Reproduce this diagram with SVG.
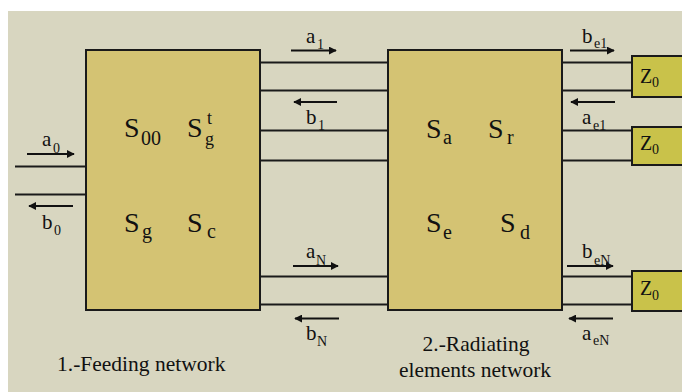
<svg xmlns="http://www.w3.org/2000/svg" width="682" height="392" viewBox="0 0 682 392" font-family="'Liberation Serif', 'Times New Roman', 'DejaVu Serif', serif">
<defs>
<marker id="ah" viewBox="0 0 10 10" refX="9" refY="5" markerWidth="4" markerHeight="4" orient="auto" markerUnits="strokeWidth">
<path d="M0,0 L10,5 L0,10 z" fill="#111"/>
</marker>
<style>
.box{fill:#D4C373;stroke:#1a1a1a;stroke-width:2}
.z{fill:#C9C24A;stroke:#1a1a1a;stroke-width:2}
.ln{stroke:#1a1a1a;stroke-width:2;fill:none}
.ar{stroke:#111;stroke-width:2;fill:none;marker-end:url(#ah)}
text{font-family:'Liberation Serif','Times New Roman','DejaVu Serif',serif;fill:#111}
.m{font-size:21px}
.s{font-size:14px}
.S{font-size:28px}
.Ss{font-size:20px}
.St{font-size:18px}
.Z{font-size:20px}
.cap{font-size:21.5px}
</style>
</defs>
<rect x="0" y="0" width="682" height="392" fill="#ffffff"/>
<rect x="8" y="11" width="674" height="381" fill="#D8D6C0"/>

<g id="connectors">
<line class="ln" x1="15" y1="166.5" x2="86" y2="166.5"/>
<line class="ln" x1="15" y1="194.5" x2="86" y2="194.5"/>
<line class="ln" x1="260" y1="62.5" x2="388" y2="62.5"/>
<line class="ln" x1="260" y1="90.5" x2="388" y2="90.5"/>
<line class="ln" x1="260" y1="130.5" x2="388" y2="130.5"/>
<line class="ln" x1="260" y1="160.5" x2="388" y2="160.5"/>
<line class="ln" x1="260" y1="276.5" x2="388" y2="276.5"/>
<line class="ln" x1="260" y1="304.5" x2="388" y2="304.5"/>
<line class="ln" x1="562" y1="62.5" x2="632" y2="62.5"/>
<line class="ln" x1="562" y1="90.5" x2="632" y2="90.5"/>
<line class="ln" x1="562" y1="130.5" x2="632" y2="130.5"/>
<line class="ln" x1="562" y1="160.5" x2="632" y2="160.5"/>
<line class="ln" x1="562" y1="276.5" x2="632" y2="276.5"/>
<line class="ln" x1="562" y1="304.5" x2="632" y2="304.5"/>
<line class="ar" x1="27" y1="154" x2="74" y2="154"/>
<line class="ar" x1="73" y1="206" x2="29" y2="206"/>
<line class="ar" x1="291" y1="50.5" x2="336" y2="50.5"/>
<line class="ar" x1="337" y1="102" x2="294" y2="102"/>
<line class="ar" x1="293" y1="266" x2="338" y2="266"/>
<line class="ar" x1="339" y1="318.5" x2="295" y2="318.5"/>
<line class="ar" x1="570" y1="50.5" x2="614" y2="50.5"/>
<line class="ar" x1="615" y1="102" x2="571" y2="102"/>
<line class="ar" x1="567" y1="266" x2="613" y2="266"/>
<line class="ar" x1="613" y1="318.5" x2="569" y2="318.5"/>
<text class="m" x="42" y="146">a</text><text class="s" x="53" y="153">0</text>
<text class="m" x="42" y="229">b</text><text class="s" x="54" y="235">0</text>
<text class="m" x="306" y="43">a</text><text class="s" x="317" y="49">1</text>
<text class="m" x="306" y="124">b</text><text class="s" x="318" y="130">1</text>
<text class="m" x="306" y="258">a</text><text class="s" x="316" y="265">N</text>
<text class="m" x="306" y="340">b</text><text class="s" x="317" y="346">N</text>
<text class="m" x="582" y="43">b</text><text class="s" x="594" y="48">e1</text>
<text class="m" x="582" y="124">a</text><text class="s" x="593" y="130">e1</text>
<text class="m" x="582" y="258">b</text><text class="s" x="594" y="265">eN</text>
<text class="m" x="582" y="340">a</text><text class="s" x="593" y="345">eN</text>
</g>

<g id="feeding-network">
<rect class="box" x="86" y="50" width="174" height="260"/>
<text class="S" x="124" y="137">S</text><text class="Ss" x="141" y="145">00</text>
<text class="S" x="187" y="137">S</text>
<text class="St" x="207" y="124">t</text>
<text class="St" x="205" y="145">g</text>
<text class="S" x="124" y="232">S</text><text class="Ss" x="142" y="238">g</text>
<text class="S" x="187" y="232">S</text><text class="Ss" x="207" y="238">c</text>
<text class="cap" x="57" y="371">1.-Feeding network</text>
</g>

<g id="radiating-network">
<rect class="box" x="388" y="50" width="174" height="260"/>
<text class="S" x="426" y="138">S</text><text class="Ss" x="443" y="144">a</text>
<text class="S" x="488" y="138">S</text><text class="Ss" x="507" y="144">r</text>
<text class="S" x="426" y="232">S</text><text class="Ss" x="443" y="239">e</text>
<text class="S" x="500" y="232">S</text><text class="Ss" x="520" y="239">d</text>
<text class="cap" x="476" y="351" text-anchor="middle">2.-Radiating</text>
<text class="cap" x="475" y="377" text-anchor="middle">elements network</text>
</g>

<g id="z0-1">
<rect class="z" x="632" y="56" width="60" height="41"/>
<text class="Z" x="640" y="83">Z</text><text class="s" x="652" y="87">0</text>
</g>
<g id="z0-2">
<rect class="z" x="632" y="127" width="60" height="38"/>
<text class="Z" x="640" y="150">Z</text><text class="s" x="652" y="154">0</text>
</g>
<g id="z0-3">
<rect class="z" x="632" y="271" width="60" height="40"/>
<text class="Z" x="640" y="295">Z</text><text class="s" x="652" y="300">0</text>
</g>
</svg>
